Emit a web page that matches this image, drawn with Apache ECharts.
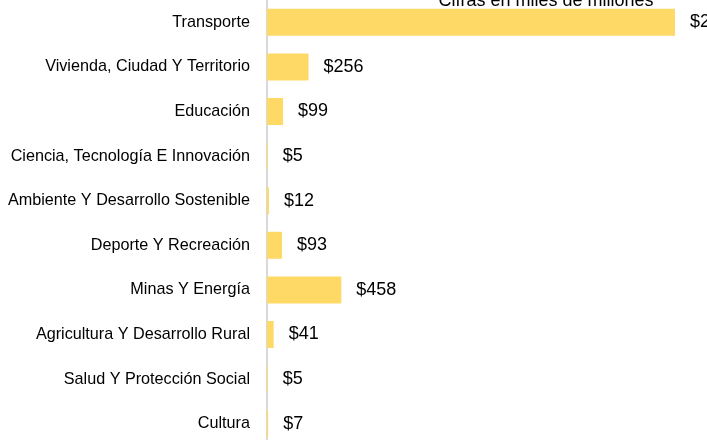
<!DOCTYPE html>
<html>
<head>
<meta charset="utf-8">
<script src="https://cdn.jsdelivr.net/npm/echarts@6/dist/echarts.min.js"></script>
<style>
  html,body{margin:0;padding:0;background:#fff;overflow:hidden;}
  #chart{width:707px;height:446px;}
</style>
</head>
<body>
<div id="chart"></div>
<script>
// sectores (de arriba a abajo)
var sectores = ['Transporte','Vivienda, Ciudad Y Territorio','Educación','Ciencia, Tecnología E Innovación',
  'Ambiente Y Desarrollo Sostenible','Deporte Y Recreación','Minas Y Energía',
  'Agricultura Y Desarrollo Rural','Salud Y Protección Social','Cultura'];
// cifras en miles de millones
var valores = [2515, 256, 99, 5, 12, 93, 458, 41, 5, 7];
var titulo = 'Cifras en miles de millones';

function fmt(v){
  // separador de miles estilo es-CO
  return '$' + String(v).replace(/\B(?=(\d{3})+(?!\d))/g, '.');
}

var myChart = echarts.init(document.getElementById('chart'));
var option = {
  animation:false,
  title:{
    text:titulo,
    left:541, top:-13,
    textAlign:'center',
    textStyle:{fontFamily:'Liberation Sans',fontSize:18,fontWeight:'normal',color:'#000'}
  },
  grid:{left:267, right:32, top:0, bottom:0, containLabel:false},
  xAxis:{
    type:'value', min:0, max:2515, show:false
  },
  yAxis:{
    type:'category',
    inverse:true,
    data:sectores,
    axisLine:{show:true,lineStyle:{color:'#d9d9d9',width:2}},
    axisTick:{show:false},
    axisLabel:{margin:17,fontFamily:'Liberation Sans',fontSize:16.2,color:'#000'}
  },
  series:[{
    type:'bar',
    data:valores,
    barWidth:27,
    itemStyle:{color:'#FFD966'},
    label:{
      show:true, position:'right', distance:15,
      fontFamily:'Liberation Sans', fontSize:18, color:'#000',
      formatter:function(p){return fmt(p.value);}
    }
  }]
};
myChart.setOption(option);
</script>
</body>
</html>
